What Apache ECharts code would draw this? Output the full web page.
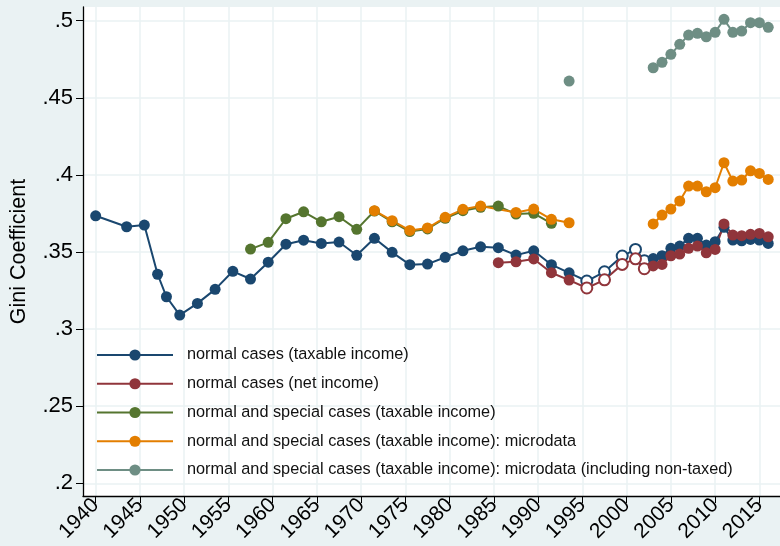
<!DOCTYPE html>
<html>
<head>
<meta charset="utf-8">
<script src="https://cdn.jsdelivr.net/npm/echarts@6/dist/echarts.min.js"></script>
<style>
  html, body { margin: 0; padding: 0; background: #eaf2f3; }
  #main { width: 780px; height: 546px; }
</style>
</head>
<body>
<div id="main"></div>
<script>
var names = [
    'normal cases (taxable income)',
    'normal cases (net income)',
    'normal and special cases (taxable income)',
    'normal and special cases (taxable income): microdata',
    'normal and special cases (taxable income): microdata (including non-taxed)'
];
var colors = ['#1a476f', '#90353b', '#55752f', '#e37e00', '#6e8e84'];

var xTicks = [1940, 1945, 1950, 1955, 1960, 1965, 1970, 1975, 1980, 1985, 1990, 1995, 2000, 2005, 2010, 2015];
var yTicks = [0.2, 0.25, 0.3, 0.35, 0.4, 0.45, 0.5];

// years drawn with hollow markers
var hollowYears = [1995.5, 1997.5, 1999.5, 2001, 2002];

var blueYears = [1940, 1943.5, 1945.5, 1947, 1948, 1949.5, 1951.5, 1953.5, 1955.5, 1957.5, 1959.5,
    1961.5, 1963.5, 1965.5, 1967.5, 1969.5, 1971.5, 1973.5, 1975.5, 1977.5, 1979.5, 1981.5, 1983.5,
    1985.5, 1987.5, 1989.5, 1991.5, 1993.5, 1995.5, 1997.5, 1999.5, 2001, 2002,
    2003, 2004, 2005, 2006, 2007, 2008, 2009, 2010, 2011, 2012, 2013, 2014, 2015, 2016];
var blueVals = [0.3735, 0.3664, 0.3675, 0.3356, 0.3210, 0.3091, 0.3167, 0.3258, 0.3375, 0.3325, 0.3434,
    0.3551, 0.3577, 0.3556, 0.3565, 0.3479, 0.3589, 0.3498, 0.3418, 0.3422, 0.3466, 0.3508, 0.3534,
    0.3528, 0.3480, 0.3508, 0.3418, 0.3365, 0.3312, 0.3372, 0.3474, 0.3517, 0.3444,
    0.3458, 0.3476, 0.3524, 0.3539, 0.3589, 0.3589, 0.3545, 0.3567, 0.3660, 0.3578, 0.3573, 0.3582, 0.3578, 0.3556];

var redYears = [1985.5, 1987.5, 1989.5, 1991.5, 1993.5, 1995.5, 1997.5, 1999.5, 2001, 2002,
    2003, 2004, 2005, 2006, 2007, 2008, 2009, 2010, 2011, 2012, 2013, 2014, 2015, 2016];
var redVals = [0.3431, 0.3437, 0.3455, 0.3366, 0.3318, 0.3267, 0.3320, 0.3420, 0.3456, 0.3392,
    0.3410, 0.3420, 0.3476, 0.3487, 0.3524, 0.3539, 0.3495, 0.3517, 0.3682, 0.3610, 0.3606, 0.3615, 0.3621, 0.3599];

var greenYears = [1957.5, 1959.5, 1961.5, 1963.5, 1965.5, 1967.5, 1969.5, 1971.5, 1973.5, 1975.5,
    1977.5, 1979.5, 1981.5, 1983.5, 1985.5, 1987.5, 1989.5, 1991.5];
var greenVals = [0.3519, 0.3563, 0.3716, 0.3761, 0.3696, 0.3729, 0.3647, 0.3766, 0.3696, 0.3633,
    0.3650, 0.3719, 0.3768, 0.3790, 0.3798, 0.3746, 0.3751, 0.3686];

var orangeYearsA = [1971.5, 1973.5, 1975.5, 1977.5, 1979.5, 1981.5, 1983.5, 1987.5, 1989.5, 1991.5, 1993.5];
var orangeValsA = [0.3768, 0.3703, 0.3640, 0.3656, 0.3725, 0.3777, 0.3798, 0.3757, 0.3779, 0.3712, 0.3690];
var orangeYearsB = [2003, 2004, 2005, 2006, 2007, 2008, 2009, 2010, 2011, 2012, 2013, 2014, 2015, 2016];
var orangeValsB = [0.3682, 0.3740, 0.3779, 0.3831, 0.3928, 0.3928, 0.3891, 0.3917, 0.4079, 0.3960, 0.3967, 0.4027, 0.4010, 0.3971];

var greyYearsA = [1993.5];
var greyValsA = [0.4609];
var greyYearsB = [2003, 2004, 2005, 2006, 2007, 2008, 2009, 2010, 2011, 2012, 2013, 2014, 2015, 2016];
var greyValsB = [0.4695, 0.4730, 0.4782, 0.4847, 0.4907, 0.4918, 0.4896, 0.4925, 0.5009, 0.4925, 0.4933, 0.4987, 0.4987, 0.4957];

function pts(years, vals, color) {
    return years.map(function (y, i) {
        var item = { value: [y, vals[i]] };
        if (hollowYears.indexOf(y) >= 0) {
            item.itemStyle = { color: '#fff', borderColor: color, borderWidth: 2 };
        }
        return item;
    });
}

function line(idx, years, vals) {
    return {
        name: names[idx],
        type: 'line',
        data: pts(years, vals, colors[idx]),
        symbol: 'circle',
        symbolSize: 11,
        showAllSymbol: true,
        color: colors[idx],
        lineStyle: { width: 2, color: colors[idx] },
        itemStyle: { color: colors[idx] },
        emphasis: { disabled: true },
        animation: false
    };
}

var myChart = echarts.init(document.getElementById('main'));

var fontFam = '"Liberation Sans", Arial, Helvetica, sans-serif';

option = {
    backgroundColor: '#eaf2f3',
    grid: {
        left: 80, right: 0, top: 7, bottom: 50,
        show: true, backgroundColor: '#fff', borderWidth: 0
    },
    legend: {
        orient: 'vertical',
        left: 96,
        top: 347,
        padding: 0,
        itemWidth: 76,
        itemHeight: 14,
        itemGap: 12.75,
        data: names,
        textStyle: { fontFamily: fontFam, fontSize: 16.3, color: '#111', padding: [0, 0, 0, 9] }
    },
    xAxis: {
        type: 'value',
        min: 1938.57,
        max: 2017.33,
        axisLine: { show: true, onZero: false, lineStyle: { color: '#000', width: 1.3 } },
        axisTick: { show: true, length: 7, lineStyle: { color: '#000' }, customValues: xTicks },
        axisLabel: {
            customValues: xTicks, rotate: 45, margin: 6,
            fontFamily: fontFam, fontSize: 21, color: '#000',
            formatter: function (v) { return String(v); }
        },
        splitLine: { show: true, lineStyle: { color: '#eaf2f3', width: 1.5 } }
    },
    yAxis: {
        type: 'value',
        min: 0.1918,
        max: 0.5089,
        name: 'Gini Coefficient',
        nameLocation: 'middle',
        nameGap: 53,
        nameTextStyle: { fontFamily: fontFam, fontSize: 21.5, color: '#000' },
        axisLine: { show: true, lineStyle: { color: '#000', width: 1.3 } },
        axisTick: { show: true, length: 7, lineStyle: { color: '#000' }, customValues: yTicks },
        axisLabel: {
            customValues: yTicks, margin: 10,
            fontFamily: fontFam, fontSize: 22, color: '#000',
            formatter: function (v) { return String(+v.toFixed(2)).replace(/^0/, ''); }
        },
        splitLine: { show: true, lineStyle: { color: '#eaf2f3', width: 1.5 } }
    },
    series: [
        line(0, blueYears, blueVals),
        line(1, redYears, redVals),
        line(2, greenYears, greenVals),
        line(3, orangeYearsA, orangeValsA),
        line(3, orangeYearsB, orangeValsB),
        line(4, greyYearsA, greyValsA),
        line(4, greyYearsB, greyValsB)
    ]
};

myChart.setOption(option);
</script>
</body>
</html>
